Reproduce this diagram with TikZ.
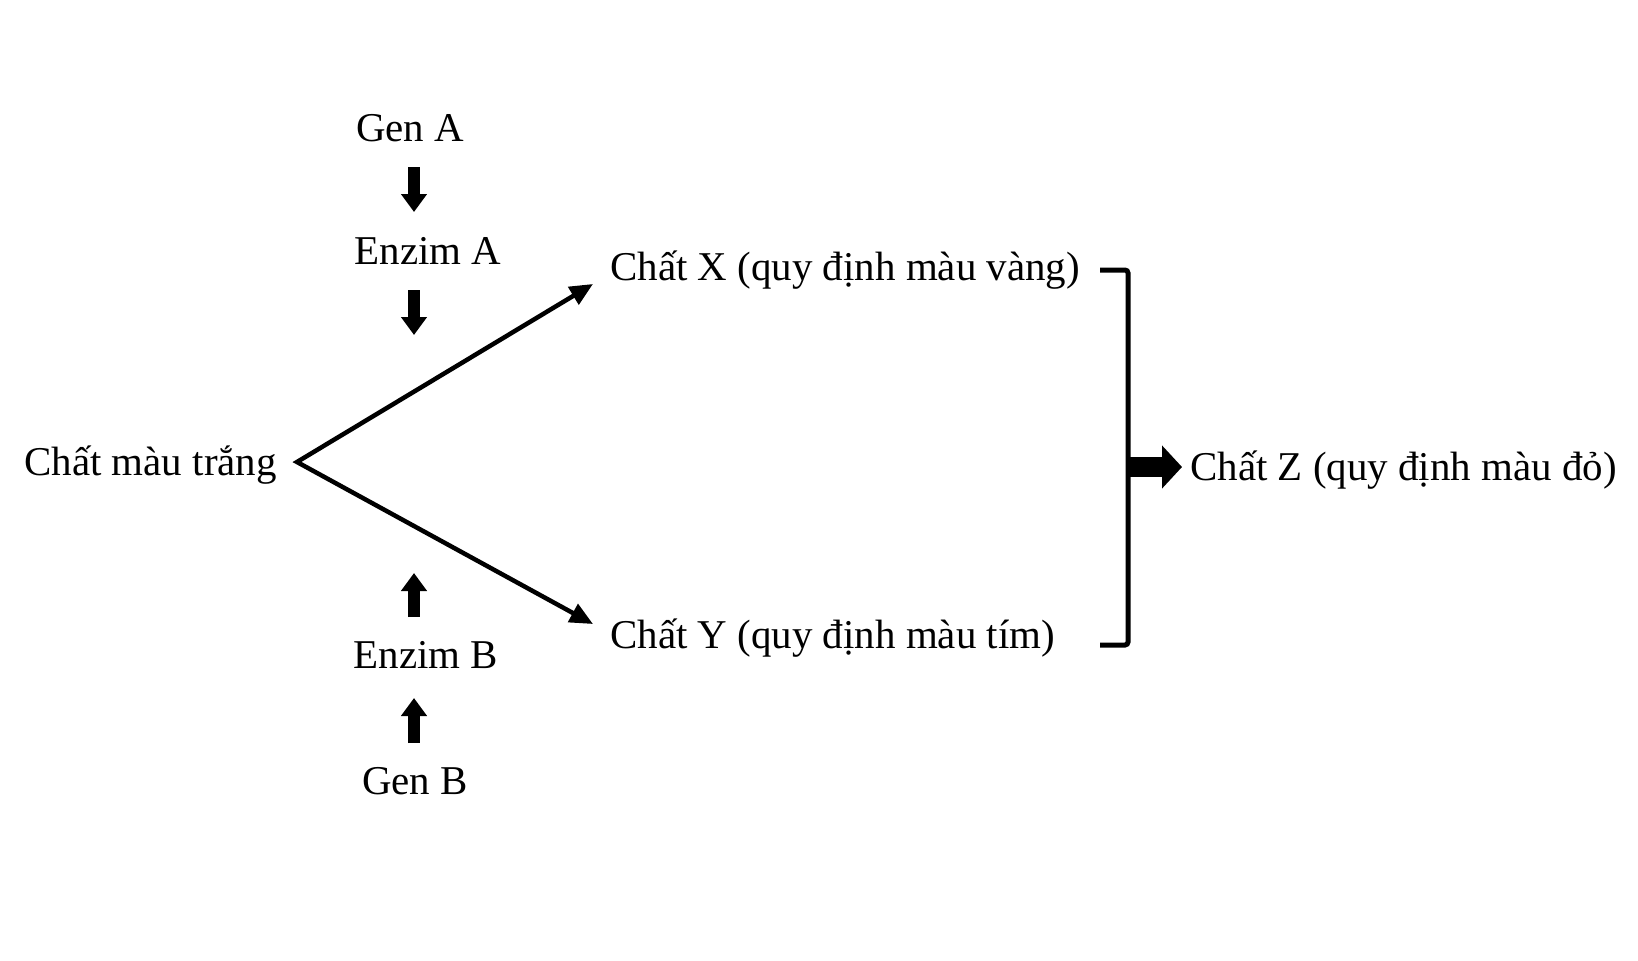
\documentclass[tikz,border=0pt]{standalone}
\usepackage{fontspec}
\setmainfont{Liberation Serif}
\usetikzlibrary{arrows.meta,calc}

\begin{document}
\begin{tikzpicture}[x=0.02cm,y=-0.02cm,
		lbl/.style={inner sep=0pt,font=\fontsize{23.3}{28}\selectfont},
		blk/.style={-{Triangle[length=3.6mm,width=5mm]},line width=2.4mm},
		ar/.style={{Triangle[length=4.6mm,width=4mm]}-{Triangle[length=4.6mm,width=4mm]},line width=0.9mm},
		brk/.style={line width=1mm,rounded corners=0.6mm},
		fat/.style={-{Triangle[length=4mm,width=8.4mm]},line width=4mm,shorten >=1.6mm}]
		\useasboundingbox[fill=white] (0,0) rectangle (1638,960);
		% substances and enzymes
		\node[lbl,anchor=base] (genA) at (410,141) {Gen A};
		\node[lbl,anchor=base] (enzA) at (428,264) {Enzim A};
		\node[lbl,anchor=base west] (white) at (24,475) {Chất màu trắng};
		\node[lbl,anchor=base west] (chX) at (610,280) {Chất X (quy định màu vàng)};
		\node[lbl,anchor=base west] (chY) at (610,648) {Chất Y (quy định màu tím)};
		\node[lbl,anchor=base west] (chZ) at (1190,480) {Chất Z (quy định màu đỏ)};
		\node[lbl,anchor=base] (enzB) at (426,668) {Enzim B};
		\node[lbl,anchor=base] (genB) at (415,794) {Gen B};
		\coordinate (ax) at (414,0);
		\coordinate (fork) at (297,462);
		\coordinate (bt) at (1100,270);
		\coordinate (bb) at (1100,645);
		\coordinate (bm) at (1128,467);
		% gene -> enzyme arrows
		\draw[blk] ($(genA.base -| ax)+(0,26)$) -- ($(enzA.base -| ax)+(0,-52)$);
		\draw[blk] ($(enzA.base -| ax)+(0,26)$) -- +(0,45);
		\draw[blk] ($(enzB.base -| ax)+(0,-51)$) -- +(0,-44);
		\draw[blk] ($(genB.base -| ax)+(0,-51)$) -- ($(enzB.base -| ax)+(0,30)$);
		% white -> X / Y
		\draw[ar] ([shift={(-17,4)}]chX.base west) -- (fork) -- ([shift={(-17,-24)}]chY.base west);
		% X + Y -> Z
		\draw[brk] (bt) -| (bm) |- (bb);
		\draw[fat] (bm) -- (bm -| chZ.west);
	\end{tikzpicture}
\end{document}
